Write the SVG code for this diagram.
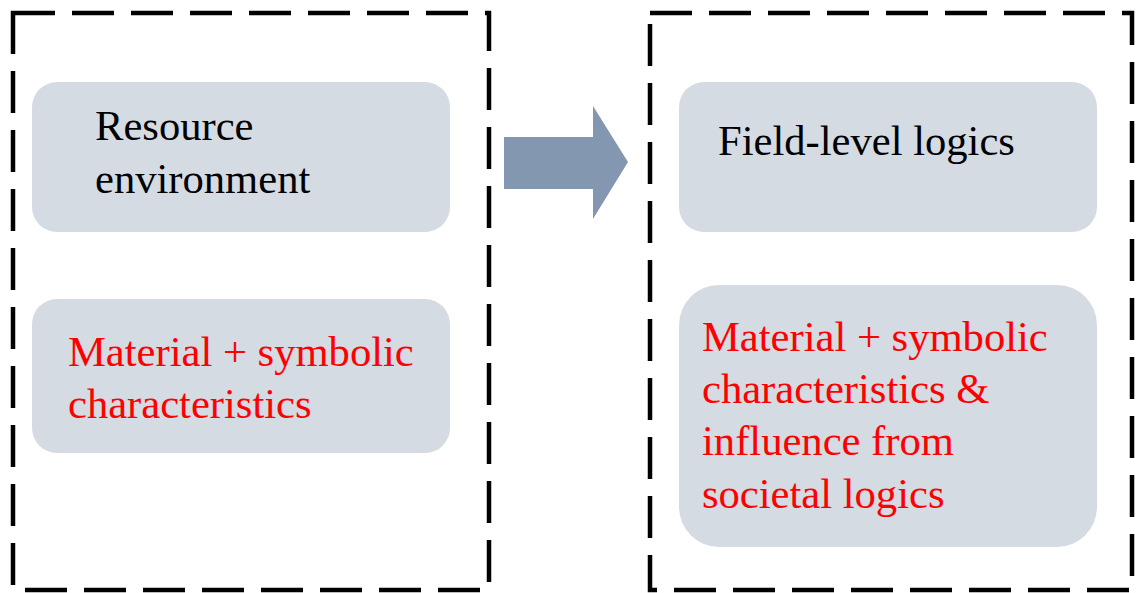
<svg xmlns="http://www.w3.org/2000/svg" width="1136" height="593" viewBox="0 0 1136 593">
  <style>
    .frame { fill: none; stroke: #000; stroke-width: 4.5; stroke-dasharray: 42 17; }
    .node { fill: #D5DBE3; }
    .label { font-size: 42.6px; }
    .dark { fill: #000; }
    .red { fill: #FF0000; }
    .arrow { fill: #8497B0; }
  </style>

  <!-- dashed group frames -->
  <g id="frame-left">
    <rect class="frame" x="13" y="13" width="476" height="577"/>
  </g>
  <g id="frame-right">
    <rect class="frame" x="650" y="13" width="482" height="577"/>
  </g>

  <g font-family="'Liberation Serif', 'DejaVu Serif', serif">
    <g id="node-resource">
      <rect class="node" x="32" y="82" width="418" height="150" rx="25"/>
      <text class="label dark" x="95" y="140">Resource</text>
      <text class="label dark" x="95" y="193">environment</text>
    </g>

    <g id="node-material-left">
      <rect class="node" x="32" y="299" width="418" height="154" rx="25"/>
      <text class="label red" x="68" y="366">Material + symbolic</text>
      <text class="label red" x="68" y="418">characteristics</text>
    </g>

    <g id="node-field">
      <rect class="node" x="679" y="82" width="418" height="150" rx="25"/>
      <text class="label dark" x="718" y="155">Field-level logics</text>
    </g>

    <g id="node-material-right">
      <rect class="node" x="679" y="285" width="418" height="262" rx="40"/>
      <text class="label red" x="702" y="351">Material + symbolic</text>
      <text class="label red" x="702" y="403">characteristics &amp;</text>
      <text class="label red" x="702" y="455">influence from</text>
      <text class="label red" x="702" y="508">societal logics</text>
    </g>
  </g>

  <!-- block arrow between the two frames -->
  <g id="connectors">
    <polygon class="arrow" points="504,137 593,137 593,106 628,162 593,219 593,189 504,189"/>
  </g>
</svg>
